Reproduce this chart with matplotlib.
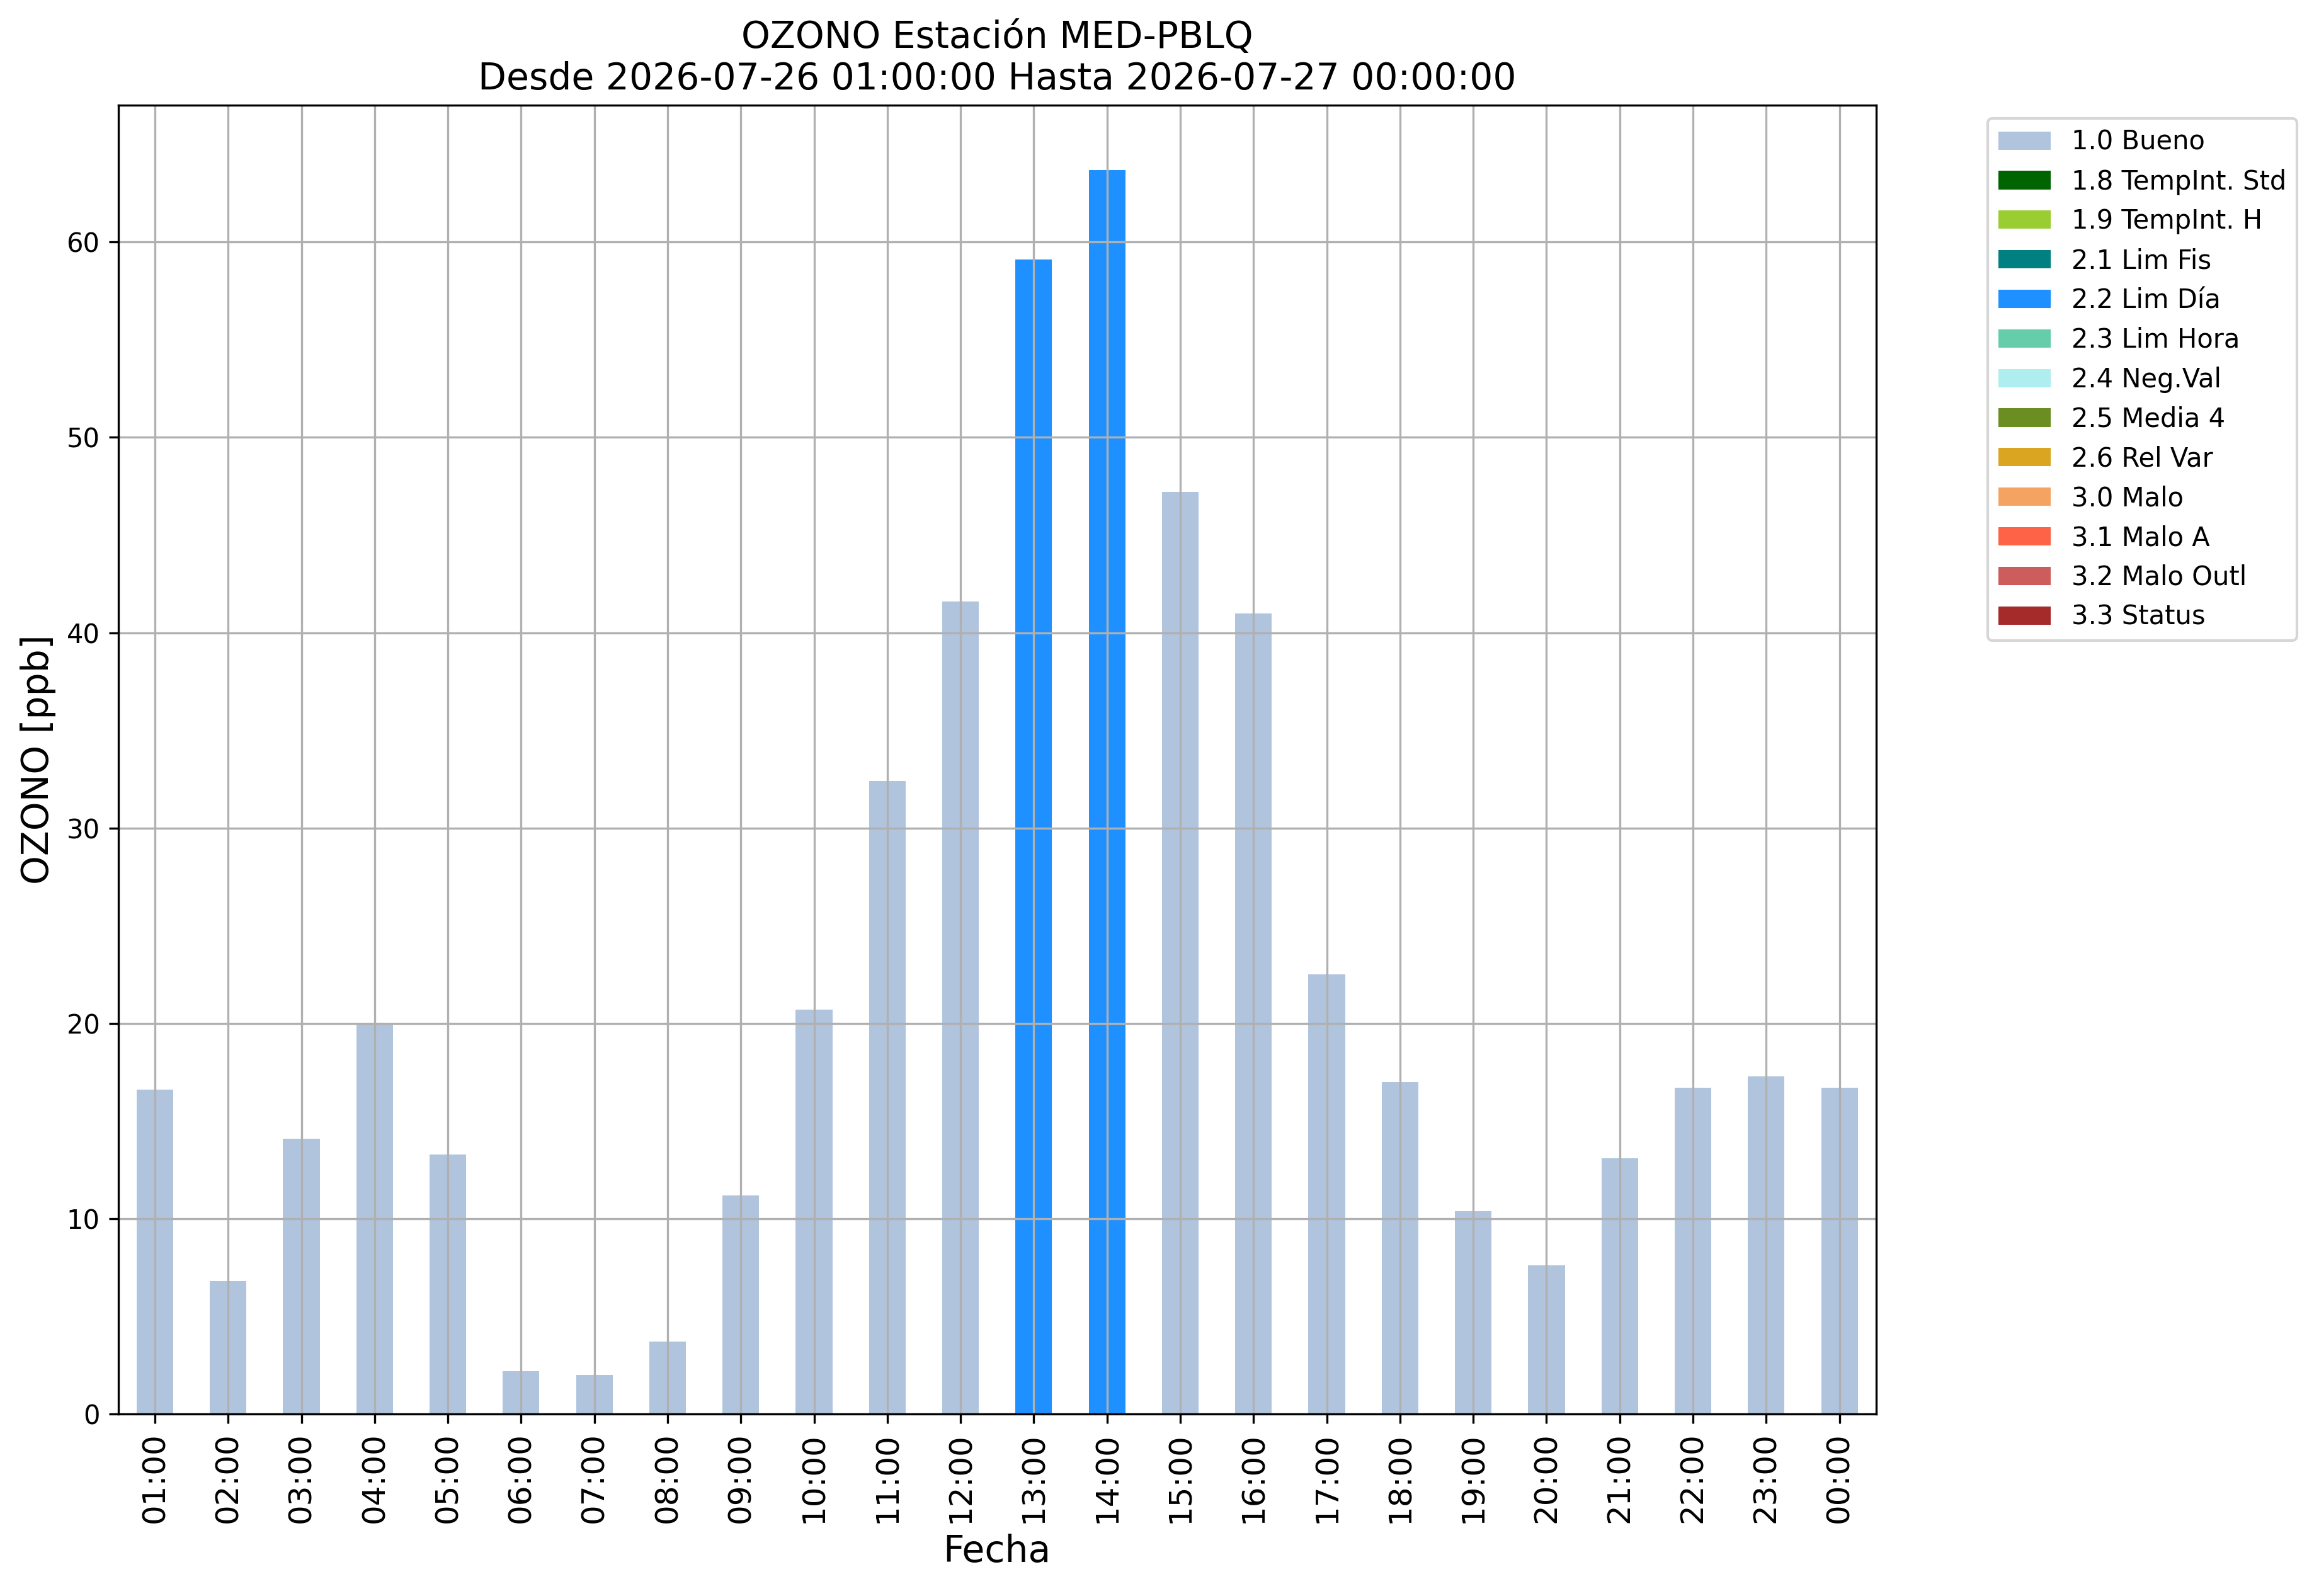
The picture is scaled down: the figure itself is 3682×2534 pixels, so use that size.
import numpy as np
import matplotlib
matplotlib.use("Agg")
import matplotlib.pyplot as plt

horas = ["01:00", "02:00", "03:00", "04:00", "05:00", "06:00", "07:00", "08:00",
         "09:00", "10:00", "11:00", "12:00", "13:00", "14:00", "15:00", "16:00",
         "17:00", "18:00", "19:00", "20:00", "21:00", "22:00", "23:00", "00:00"]
ozono = [16.6, 6.8, 14.1, 20.0, 13.3, 2.2, 2.0, 3.7, 11.2, 20.7, 32.4, 41.6,
         59.1, 63.7, 47.2, 41.0, 22.5, 17.0, 10.4, 7.6, 13.1, 16.7, 17.3, 16.7]
bandera = ["1.0 Bueno"] * 12 + ["2.2 Lim Día"] * 2 + ["1.0 Bueno"] * 10

categorias = ["1.0 Bueno", "1.8 TempInt. Std", "1.9 TempInt. H", "2.1 Lim Fis",
              "2.2 Lim Día", "2.3 Lim Hora", "2.4 Neg.Val", "2.5 Media 4",
              "2.6 Rel Var", "3.0 Malo", "3.1 Malo A", "3.2 Malo Outl", "3.3 Status"]
colores = ["lightsteelblue", "darkgreen", "yellowgreen", "teal", "dodgerblue",
           "mediumaquamarine", "paleturquoise", "olivedrab", "goldenrod",
           "sandybrown", "tomato", "indianred", "brown"]

fig = plt.figure(figsize=(3682/300, 2534/300), dpi=300)
ax = fig.add_axes([0.051, 0.114, 0.758, 0.820])

# stacked bars, one series per quality flag
x = np.arange(len(horas))
base = np.zeros(len(horas))
for cat, col in zip(categorias, colores):
    vals = np.array([v if b == cat else 0.0 for v, b in zip(ozono, bandera)])
    ax.bar(x, vals, width=0.5, bottom=base, color=col, label=cat)
    base += vals

ax.set_xlim(-0.5, len(horas) - 0.5)
ax.set_ylim(0, 67)
ax.set_xticks(x)
ax.set_xticklabels(horas, rotation=90, fontsize=12)
ax.tick_params(axis="y", labelsize=10)
ax.grid(True)
ax.set_xlabel("Fecha", fontsize=14)
ax.set_ylabel("OZONO [ppb]", fontsize=14)
ax.set_title("OZONO Estación MED-PBLQ\nDesde 2026-07-26 01:00:00 Hasta 2026-07-27 00:00:00",
             fontsize=14)
ax.legend(bbox_to_anchor=(1.056, 1), loc="upper left", fontsize=10)

fig.savefig("out.png", dpi=300)
